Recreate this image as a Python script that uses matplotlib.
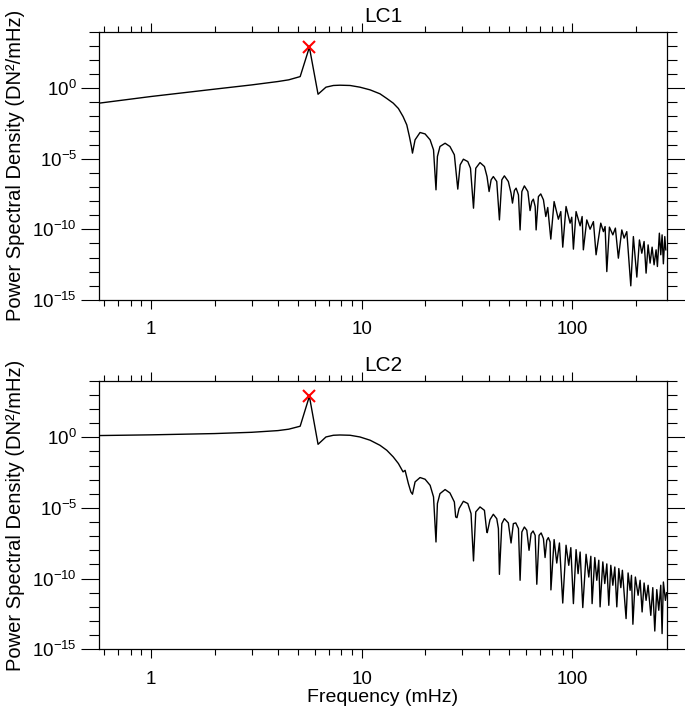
import numpy as np
import matplotlib.pyplot as plt
from matplotlib.ticker import FixedLocator, NullFormatter, LogFormatterMathtext

plt.rcParams['font.family'] = ['Liberation Sans', 'DejaVu Sans']
plt.rcParams['mathtext.fontset'] = 'dejavusans'

# frequency (mHz) and log10 of PSD (DN^2/mHz)
lc1_freq = [0.568, 1.0, 2.0, 3.0, 4.0, 4.5, 5.1, 5.64, 6.20, 6.76, 7.33, 7.88,
            8.80, 9.80, 10.95, 12.2, 13.14, 14.1, 14.92, 15.7, 16.35, 16.83,
            17.2, 17.4,
            17.9, 18.9, 19.97, 21.1, 21.9, 22.5,
            22.85, 23.5, 24.85, 26.2, 27.5, 28.55,
            29.3, 30.35, 31.85, 32.8, 33.9,
            34.75, 36.4, 38.2, 39.3, 40.2,
            41.1, 42.1, 43.7, 45.0,
            46.2, 47.5, 49.6, 51.1, 51.9,
            53.0, 54.0, 55.4, 56.4,
            57.5, 59.1, 61.4, 62.9,
            64.1, 65.2, 66.5, 67.2,
            68.9, 70.7, 72.8, 74.7,
            76.3, 78.9, 81.8, 85.7, 88.0, 89.9, 93.2, 97.4,
            99.2, 101.0, 104.0, 108.7, 111.1, 112.6, 116.9, 121.2, 125.7,
            129.4, 136.2, 140.2, 142.8, 145.5, 149.7, 155.4, 159.8, 165.1,
            171.4, 175.8, 181.0, 189.1, 194.5, 202.0, 207.8, 213.3, 218.7,
            223.5, 228.5, 233.5, 238.7, 243.9, 249.3, 252.9, 258.4, 262.4,
            266.2, 270.0, 274.2, 277.2]
lc1_log_psd = [-1.06, -0.59, -0.07, 0.23, 0.47, 0.59, 0.82, 2.90, -0.43, 0.07,
               0.19, 0.21, 0.19, 0.07, -0.12, -0.40, -0.73, -1.06, -1.44,
               -2.01, -2.60, -3.43, -4.13, -4.60,
               -3.66, -3.14, -3.24, -3.66, -4.37, -7.20,
               -4.84, -4.13, -3.90, -4.13, -4.72, -7.15,
               -5.43, -5.03, -5.20, -5.67, -8.50,
               -5.67, -5.27, -5.55, -6.26, -7.32,
               -6.49, -6.26, -6.61, -9.33,
               -6.49, -6.21, -6.61, -7.44, -8.14,
               -7.25, -7.08, -7.56, -10.04,
               -7.32, -6.92, -7.32, -8.67,
               -8.03, -7.86, -8.38, -10.04,
               -7.68, -7.49, -7.91, -9.09,
               -8.45, -10.69, -8.03, -9.28, -8.74, -11.26, -8.38, -9.56,
               -9.14, -11.40, -8.74, -9.75, -9.09, -11.45, -9.33, -9.99, -9.45,
               -11.80, -9.56, -10.16, -9.80, -12.99, -9.84, -10.39, -9.91,
               -12.04, -10.04, -10.62, -10.16, -14.0, -10.51, -13.38, -10.75,
               -11.69, -10.86, -13.10, -11.10, -12.39, -11.26, -12.51, -11.45,
               -12.63, -10.27, -11.80, -10.39, -12.44, -10.51, -11.45]

lc2_freq = [0.568, 1.0, 2.0, 3.0, 4.0, 4.5, 5.1, 5.64, 6.20, 6.76, 7.33, 7.88,
            8.80, 9.80, 10.95, 12.2, 13.14, 14.1, 14.92, 15.7, 16.05, 16.64,
            17.1, 17.4,
            17.9, 18.9, 19.97, 21.1, 21.9, 22.5,
            22.85, 23.5, 24.85, 26.2, 27.5, 27.9, 28.3, 28.95,
            30.35, 31.85, 33.0, 33.9,
            34.75, 36.4, 38.2, 39.2, 39.4,
            40.6, 42.1, 43.7, 44.5, 45.0,
            46.2, 47.5, 49.6, 51.1,
            52.4, 53.8, 55.4, 56.4,
            57.5, 59.1, 60.7, 62.2,
            63.6, 65.0, 66.5, 67.7,
            69.4, 71.0, 72.8, 74.1,
            75.5, 76.8, 78.3, 79.0,
            81.8, 84.2, 86.7, 89.9, 93.2,
            96.0, 98.2, 101.0, 104.0, 106.3, 108.7, 111.9, 116.0, 119.5,
            122.2, 123.9, 127.6, 130.4, 133.3, 135.2, 139.3, 142.3, 145.5,
            148.7, 152.0, 155.4, 158.8, 162.3, 165.9, 169.6, 172.5, 179.6,
            183.6, 187.7, 190.5, 193.5, 198.8, 204.8, 209.4, 214.0, 218.7,
            223.5, 228.5, 235.3, 240.5, 245.8, 251.2, 256.7, 262.4, 266.2,
            270.0, 276.1, 279.5]
lc2_log_psd = [0.12, 0.17, 0.26, 0.35, 0.47, 0.57, 0.78, 2.90, -0.50, 0.02,
               0.14, 0.16, 0.14, 0.02, -0.21, -0.57, -0.92, -1.39, -1.86,
               -2.45, -2.34, -3.28, -3.87, -4.03,
               -3.16, -2.85, -2.97, -3.40, -4.22, -7.41,
               -4.69, -3.99, -3.70, -3.94, -4.58, -5.64, -5.69, -5.05,
               -4.53, -4.69, -5.40, -8.75,
               -5.28, -4.93, -5.17, -6.70, -6.75,
               -5.83, -5.45, -5.76, -6.46, -9.70,
               -6.11, -5.76, -6.06, -7.48,
               -6.11, -6.06, -6.46, -10.12,
               -6.70, -6.35, -6.58, -8.0,
               -6.82, -6.63, -6.94, -10.4,
               -6.94, -6.77, -7.17, -8.51,
               -7.29, -7.10, -7.41, -10.8,
               -7.24, -8.90, -7.48, -11.73, -7.64,
               -9.06, -7.81, -11.77, -7.95, -9.65, -8.12, -12.05, -8.28, -9.89,
               -8.42, -11.77, -8.51, -10.12, -8.70, -12.0, -8.82, -10.35, -8.96,
               -11.89, -9.06, -10.47, -9.18, -12.0, -9.29, -10.64, -9.41,
               -12.83, -9.60, -10.83, -9.77, -13.23, -9.89, -11.18, -10.12,
               -12.36, -10.31, -11.54, -10.47, -12.60, -10.64, -13.71, -10.78,
               -12.24, -10.47, -13.89, -10.24, -11.54, -11.0]

titles = ['LC1', 'LC2']
xlim = (0.568, 280.0)
ylim = (1e-15, 1e4)

fig = plt.figure(figsize=(6.85, 7.12), dpi=100)
ax1 = fig.add_axes([0.145, 0.5787, 0.8283, 0.3768])
ax2 = fig.add_axes([0.145, 0.0881, 0.8283, 0.3772])

series = [(lc1_freq, lc1_log_psd), (lc2_freq, lc2_log_psd)]

for ax, (f, lp), title in zip([ax1, ax2], series, titles):
    f = np.array(f)
    psd = np.power(10.0, np.array(lp))
    ax.plot(f, psd, color='black', lw=1.0)
    k = np.argmax(psd)
    ax.plot(f[k], psd[k], marker='x', color='red', ms=9, mew=1.5)

    ax.set_xscale('log')
    ax.set_yscale('log')
    ax.set_xlim(*xlim)
    ax.set_ylim(*ylim)
    ax.set_title(title, fontsize=15, pad=7)
    ax.set_ylabel('Power Spectral Density (DN²/mHz)', fontsize=14.5, labelpad=5)

    ax.yaxis.set_major_locator(FixedLocator([1e-15, 1e-10, 1e-5, 1e0]))
    ax.yaxis.set_minor_locator(FixedLocator([10.0 ** e for e in range(-15, 5)]))
    ax.yaxis.set_major_formatter(LogFormatterMathtext())
    ax.yaxis.set_minor_formatter(NullFormatter())
    ax.xaxis.set_major_locator(FixedLocator([1, 10, 100]))
    ax.xaxis.set_minor_locator(FixedLocator(
        [m * 10.0 ** d for d in range(-1, 3) for m in range(2, 10)]))
    ax.xaxis.set_major_formatter(plt.FuncFormatter(lambda v, p: '%g' % v))
    ax.xaxis.set_minor_formatter(NullFormatter())

    ax.tick_params(which='both', direction='out', top=True, right=True,
                   labelsize=13.5, width=0.8)
    ax.tick_params(axis='x', which='major', length=6.5, pad=9)
    ax.tick_params(axis='x', which='minor', length=4)
    ax.tick_params(axis='y', which='major', length=13, pad=3)
    ax.tick_params(axis='y', which='minor', length=7.5)
    for s in ax.spines.values():
        s.set_linewidth(0.9)

ax2.set_xlabel('Frequency (mHz)', fontsize=14, labelpad=1)

fig.savefig('out.png', dpi=100)
